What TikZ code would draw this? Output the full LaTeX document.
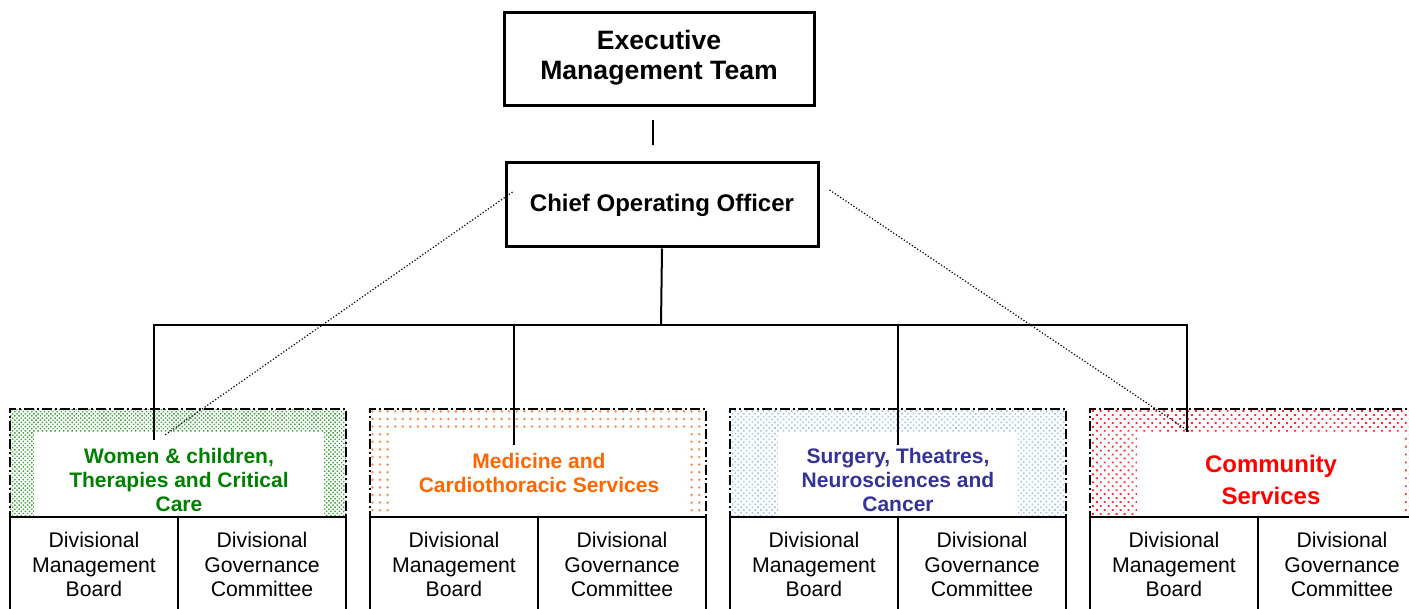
\documentclass[tikz,border=0pt]{standalone}
\usepackage{fontspec}
\setmainfont{Liberation Sans}
\usepackage{tikz}
\usetikzlibrary{positioning,calc,patterns.meta}
\definecolor{wccgreen}{RGB}{0,128,0}
\definecolor{wccdots}{RGB}{60,160,60}
\definecolor{mcsorange}{RGB}{255,102,0}
\definecolor{mcsdots}{RGB}{255,140,80}
\definecolor{stncblue}{RGB}{51,51,153}
\definecolor{stncdots}{RGB}{160,195,240}
\definecolor{csred}{RGB}{255,0,0}
\definecolor{csdots}{RGB}{255,40,40}

\begin{document}
\begin{tikzpicture}[x=0.5pt,y=-0.5pt,
  box/.style={draw=black, line width=1.5pt, align=center},
  divbox/.style={draw=black, line width=1pt, dash pattern=on 5pt off 1.5pt on 1pt off 1.5pt, minimum width=168pt, minimum height=54pt},
  head/.style={fill=white, align=center, font=\fontsize{10.5}{12}\selectfont\bfseries, minimum height=47.5pt},
  board/.style={draw=black, line width=1pt, fill=white, align=center, minimum width=84pt, minimum height=47.5pt, font=\fontsize{10.6}{12.25}\selectfont},
  link/.style={line width=1pt},
  dotlink/.style={line width=0.6pt, densely dotted}]
  \useasboundingbox (0,0) rectangle (1409,609);

  \node (emt) [box, minimum width=155pt, minimum height=46.5pt, text depth=5pt, font=\fontsize{13.3}{15}\selectfont\bfseries] at (659,59.5) {Executive\\Management Team};
  \node (coo) [box, minimum width=156pt, minimum height=42pt, font=\fontsize{12}{14}\selectfont\bfseries] at (662,205) {Chief Operating Officer};

  \node (divA) [divbox, pattern={Dots[distance=1.5pt,angle=45,radius=.5pt]}, pattern color=wccdots] at (178,463) {};
  \node (divB) [divbox, pattern={Dots[distance=3.8pt,radius=.7pt]}, pattern color=mcsdots] at (538,463) {};
  \node (divC) [divbox, pattern={Dots[distance=2pt,angle=45,radius=.55pt]}, pattern color=stncdots] at (898,463) {};
  \node (divD) [divbox, pattern={Dots[distance=2.8pt,angle=45,radius=.65pt]}, pattern color=csdots] at (1258,463) {};

  \node (headA) [head, text=wccgreen, minimum width=145pt] at (179,479.5) {Women \& children,\\Therapies and Critical\\Care};
  \node (headB) [head, text=mcsorange, minimum width=146pt, text depth=7pt] at (539,479.5) {Medicine and\\Cardiothoracic Services};
  \node (headC) [head, text=stncblue, minimum width=120pt] at (898,479.5) {Surgery, Theatres,\\Neurosciences and\\Cancer};
  \node (headD) [head, text=csred, minimum width=134pt, font=\fontsize{12}{16}\selectfont\bfseries] at (1271,479.5) {Community\\Services};

  \node (mbA) [board] at (94,564.5) {Divisional\\Management\\Board};
  \node (gcA) [board] at (262,564.5) {Divisional\\Governance\\Committee};
  \node (mbB) [board] at (454,564.5) {Divisional\\Management\\Board};
  \node (gcB) [board] at (622,564.5) {Divisional\\Governance\\Committee};
  \node (mbC) [board] at (814,564.5) {Divisional\\Management\\Board};
  \node (gcC) [board] at (982,564.5) {Divisional\\Governance\\Committee};
  \node (mbD) [board] at (1174,564.5) {Divisional\\Management\\Board};
  \node (gcD) [board] at (1342,564.5) {Divisional\\Governance\\Committee};

  \coordinate (emtEnd) at (653,120);
  \coordinate (cooEnd) at (653,145);
  \coordinate (bus) at (661,325);
  \coordinate (dropA) at (154,440);
  \coordinate (dropB) at (514,445);
  \coordinate (dropC) at (898,445);
  \coordinate (dropD) at (1187,432);
  \coordinate (dotA) at (165,435);
  \coordinate (dotD) at (1190,432);

  \draw [link] (emtEnd) -- (cooEnd);
  \draw [link] (coo.south) -- (bus);
  \draw [link] (bus) -| (dropA);
  \draw [link] (bus) -| (dropB);
  \draw [link] (bus) -| (dropC);
  \draw [link] (bus) -| (dropD);
  \draw [dotlink] ($(coo.west)+(8,-13)$) -- (dotA);
  \draw [dotlink] ($(coo.east)+(10,-15)$) -- (dotD);
\end{tikzpicture}
\end{document}
